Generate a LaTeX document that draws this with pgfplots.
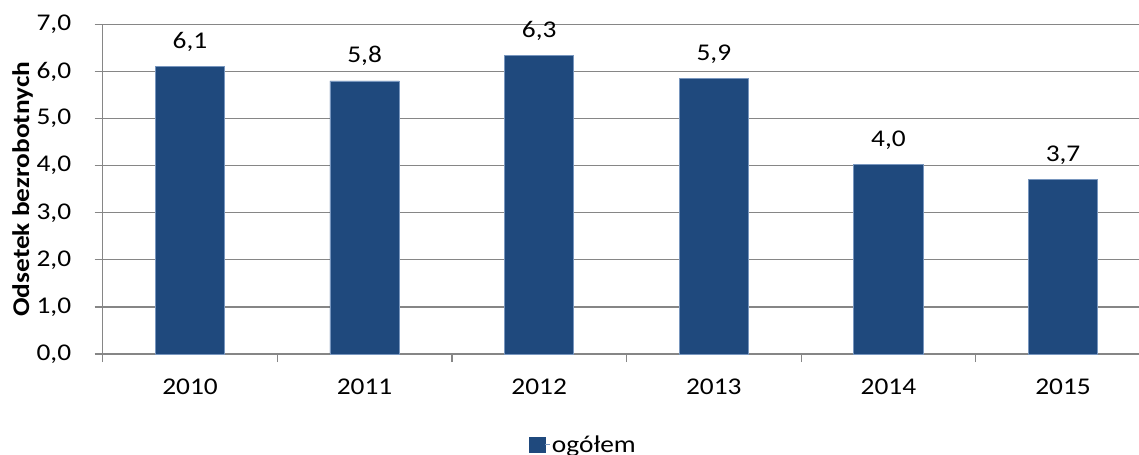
\documentclass[border=0pt]{standalone}
\usepackage{fontspec}
\setmainfont{Carlito}[FakeStretch=1.14]
\usepackage{pgfplots}
\pgfplotsset{compat=1.18}
\definecolor{barblue}{RGB}{31,73,125}
\definecolor{baredge}{RGB}{120,150,190}
\definecolor{gridgray}{RGB}{134,134,134}
\newcommand{\lbl}{\fontsize{24bp}{28bp}\selectfont}
\begin{document}
\begin{tikzpicture}
\useasboundingbox (-102.7bp,-101bp) rectangle (1036.3bp,354bp);
\begin{axis}[
  at={(0,0)}, anchor=south west,
  scale only axis, width=1036.3bp, height=329.5bp,
  xmin=-0.5, xmax=5.435, ymin=0, ymax=7,
  axis lines*=left,
  axis line style={-, draw=gridgray, line width=1.2bp},
  ymajorgrids,
  grid style={draw=gridgray, line width=1.2bp},
  ytick={0,1,2,3,4,5,6,7},
  xtick={-0.5,0.5,1.5,2.5,3.5,4.5},
  xticklabels={2010,2011,2012,2013,2014,2015},
  xticklabel style={xshift=87.3bp, yshift=-13bp},
  yticklabel style={xshift=-20bp},
  tick align=outside,
  major tick length=8bp,
  tick style={draw=gridgray, line width=1.2bp},
  tick label style={font=\lbl, text=black},
  /pgf/number format/use comma,
  /pgf/number format/fixed,
  /pgf/number format/fixed zerofill,
  /pgf/number format/precision=1,
  /pgf/number format/assume math mode=true,
  ylabel={Odsetek bezrobotnych},
  ylabel style={font=\bfseries\lbl, at={(axis description cs:0,0.5)}, anchor=center, yshift=80bp},
  ybar, bar width=69.3bp,
  nodes near coords,
  nodes near coords style={font=\lbl, text=black, anchor=base, yshift=18bp},
  legend style={at={(axis description cs:0.4104,-0.2747)}, anchor=west, xshift=-2bp, draw=none, font=\lbl},
  legend image code/.code={\fill[barblue] (0bp,-7.5bp) rectangle (15.5bp,7.5bp); \path (15.5bp,0bp) -- (20bp,0bp);},
]
\addplot[fill=barblue, draw=baredge, line width=0.8bp] coordinates {(0,6.10) (1,5.80) (2,6.34) (3,5.86) (4,4.03) (5,3.71)};
\legend{ogółem}
\end{axis}
\end{tikzpicture}
\end{document}
